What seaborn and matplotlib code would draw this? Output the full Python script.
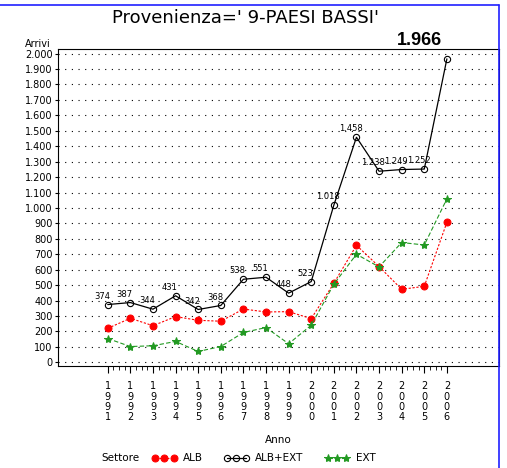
import matplotlib
matplotlib.use('Agg')
import matplotlib.pyplot as plt
from matplotlib.ticker import FixedLocator
from matplotlib.lines import Line2D
import numpy as np
import pandas as pd
import seaborn as sns

anni = [1991, 1992, 1993, 1994, 1995, 1996, 1997, 1998, 1999, 2000, 2001, 2002, 2003, 2004, 2005, 2006]
alb = [220, 285, 237, 296, 272, 266, 345, 326, 328, 283, 512, 758, 620, 473, 492, 907]
alb_ext = [374, 387, 344, 431, 342, 368, 538, 551, 448, 523, 1018, 1458, 1238, 1249, 1252, 1966]
ext = [154, 102, 107, 135, 70, 102, 193, 225, 120, 240, 506, 700, 618, 776, 760, 1059]

sns.set_style('white')
plt.rcParams['font.family'] = ['DejaVu Sans']
plt.rcParams['text.color'] = 'black'
plt.rcParams['xtick.color'] = 'black'
plt.rcParams['ytick.color'] = 'black'
plt.rcParams['axes.labelcolor'] = 'black'

def fmt(v):
    return f'{v:,}'.replace(',', '.')

df = pd.DataFrame({'Anno': anni, 'ALB': alb, 'ALB+EXT': alb_ext, 'EXT': ext})

fig = plt.figure(figsize=(5.07, 4.68), dpi=100)
ax = fig.add_axes([0.1144, 0.218, 0.8696, 0.6773])

sns.lineplot(data=df, x='Anno', y='ALB', ax=ax, color='#ff0000', marker='o', markersize=5,
             markeredgecolor='#ff0000', linestyle=(0, (2, 1.5)), linewidth=0.8, label='ALB')
sns.lineplot(data=df, x='Anno', y='ALB+EXT', ax=ax, color='black', marker='o', markersize=4.5,
             markerfacecolor='none', markeredgecolor='black', markeredgewidth=0.8,
             linewidth=0.9, label='ALB+EXT')
sns.lineplot(data=df, x='Anno', y='EXT', ax=ax, color='#229922', marker='*', markersize=6,
             markeredgecolor='#229922', linestyle=(0, (4, 2)), linewidth=0.8, label='EXT')

# etichette valori ALB+EXT (l'ultimo in grande sopra il grafico)
for a, v in zip(anni[:-1], alb_ext[:-1]):
    ax.annotate(fmt(v), (a, v), xytext=(-4, 6), textcoords='offset points',
                ha='center', va='center', fontsize=6)
ax.annotate(fmt(alb_ext[-1]), xy=(anni[-2] - 0.2, 1.028), xycoords=('data', 'axes fraction'),
            ha='center', va='center', fontsize=13, fontweight='bold',
            family=['Liberation Sans', 'DejaVu Sans'])

ax.set_xlim(1988.8, 2008.3)
ax.set_ylim(-24, 2030)
ax.xaxis.set_major_locator(FixedLocator(anni))
ax.xaxis.set_minor_locator(FixedLocator(np.arange(anni[0], anni[-1] + 0.01, 0.25)))
ax.set_xticklabels(['\n'.join(str(a)) for a in anni], fontsize=7, linespacing=1.05)
ax.set_yticks(range(0, 2001, 100))
ax.set_yticklabels([fmt(v) for v in range(0, 2001, 100)], fontsize=7)
ax.tick_params(axis='x', which='major', direction='out', length=5, width=0.8, pad=6, bottom=True)
ax.tick_params(axis='x', which='minor', direction='out', length=3, width=0.6, bottom=True)
ax.tick_params(axis='y', direction='out', length=2, width=0.8, pad=2, left=True)
ax.yaxis.grid(True, linestyle=(0, (1, 5)), color='black', linewidth=0.8)
ax.xaxis.grid(False)
for s in ax.spines.values():
    s.set_color('black')
    s.set_linewidth(0.8)
ax.set_xlabel('')
ax.set_ylabel('')
ax.get_legend().remove()

fig.text(0.075, 0.905, 'Arrivi', fontsize=7, ha='center', va='center')
fig.text(0.485, 0.962, "Provenienza=' 9-PAESI BASSI'", fontsize=13, ha='center', va='center')
fig.text(0.548, 0.06, 'Anno', fontsize=7.5, ha='center', va='center')
fig.text(0.238, 0.021, 'Settore', fontsize=7.5, ha='center', va='center')

handles = ax.get_lines()[:3]
fig.legend(handles, ['ALB', 'ALB+EXT', 'EXT'], loc='center', bbox_to_anchor=(0.52, 0.021),
           ncol=3, numpoints=3, frameon=False, fontsize=7.5, handlelength=2.4,
           columnspacing=2.0, handletextpad=0.6, borderaxespad=0, borderpad=0)

# bordo blu
fig.add_artist(Line2D([0, 0.984], [0.989, 0.989], color='#2020ff', linewidth=1.2))
fig.add_artist(Line2D([0.984, 0.984], [0, 0.989], color='#2020ff', linewidth=1.2))

fig.savefig('out.png', dpi=100)
